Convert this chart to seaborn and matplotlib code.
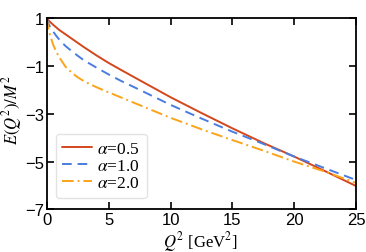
import numpy as np
import pandas as pd
import matplotlib
matplotlib.use("Agg")
import matplotlib.pyplot as plt
import seaborn as sns

# Q^2 grid [GeV^2] and E(Q^2)/M^2
q2 = [0, 0.1, 0.25, 0.5, 0.75, 1, 1.5, 2, 2.5, 3, 4, 5, 6, 7.5, 10, 12.5, 15, 17.5, 20, 22.5, 25]
e_a05 = [1.0, 0.93, 0.84, 0.72, 0.61, 0.5, 0.32, 0.14, -0.04, -0.22, -0.56, -0.88, -1.17, -1.6,
         -2.31, -2.97, -3.61, -4.22, -4.79, -5.40, -6.02]
e_a10 = [1.0, 0.8, 0.64, 0.44, 0.26, 0.1, -0.17, -0.38, -0.58, -0.77, -1.07, -1.36, -1.63, -2.0,
         -2.63, -3.2, -3.75, -4.26, -4.79, -5.28, -5.77]
e_a20 = [1.0, 0.6, 0.3, -0.1, -0.4, -0.64, -1.03, -1.28, -1.48, -1.64, -1.89, -2.11, -2.32, -2.64,
         -3.17, -3.65, -4.1, -4.54, -5.0, -5.42, -5.89]

labels = [r"$\alpha$=0.5", r"$\alpha$=1.0", r"$\alpha$=2.0"]
colors = ["#d4461c", "#4a7de0", "#fba41a"]
styles = ["-", (0, (5, 3)), (0, (6, 2, 1, 2))]

sns.set_theme(style="ticks")
plt.rcParams["font.family"] = ["Liberation Sans", "DejaVu Sans"]
plt.rcParams["mathtext.fontset"] = "stix"
for key in ["text.color", "axes.labelcolor", "xtick.color", "ytick.color", "axes.edgecolor"]:
    plt.rcParams[key] = "black"

fig = plt.figure(figsize=(3.66, 2.53), dpi=100)
ax = fig.add_axes([0.128, 0.168, 0.845, 0.757])

for vals, lab, col, ls in zip([e_a05, e_a10, e_a20], labels, colors, styles):
    df = pd.DataFrame({"Q2": q2, "E": vals})
    sns.lineplot(data=df, x="Q2", y="E", ax=ax, color=col, linestyle=ls, lw=1.4, label=lab)

ax.set_xlim(0, 25)
ax.set_ylim(-7, 1)
ax.set_xticks([0, 5, 10, 15, 20, 25])
ax.set_yticks([1, -1, -3, -5, -7])
ax.set_yticklabels(["1", "\u22121", "\u22123", "\u22125", "\u22127"])
ax.tick_params(direction="in", length=5, width=1.2, top=True, right=True,
               labelsize=12, pad=2)
for sp in ax.spines.values():
    sp.set_linewidth(1.3)

ax.set_xlabel(r"$Q^2$ [GeV$^2$]", family="Liberation Serif", fontsize=12)
ax.set_ylabel(r"$E(Q^2)/M^2$", family="Liberation Serif", fontsize=12)
ax.xaxis.set_label_coords(0.498, -0.102)
ax.yaxis.set_label_coords(-0.074, 0.525)

leg = ax.legend(loc="lower left", bbox_to_anchor=(0.028, 0.06), borderaxespad=0,
                prop={"family": "Liberation Serif", "size": 12.5}, handlelength=1.7,
                handletextpad=0.3, labelspacing=0.05, borderpad=0.4,
                fancybox=True, frameon=True)
leg.get_frame().set_edgecolor("#dddddd")

fig.savefig("out.png", dpi=100)
